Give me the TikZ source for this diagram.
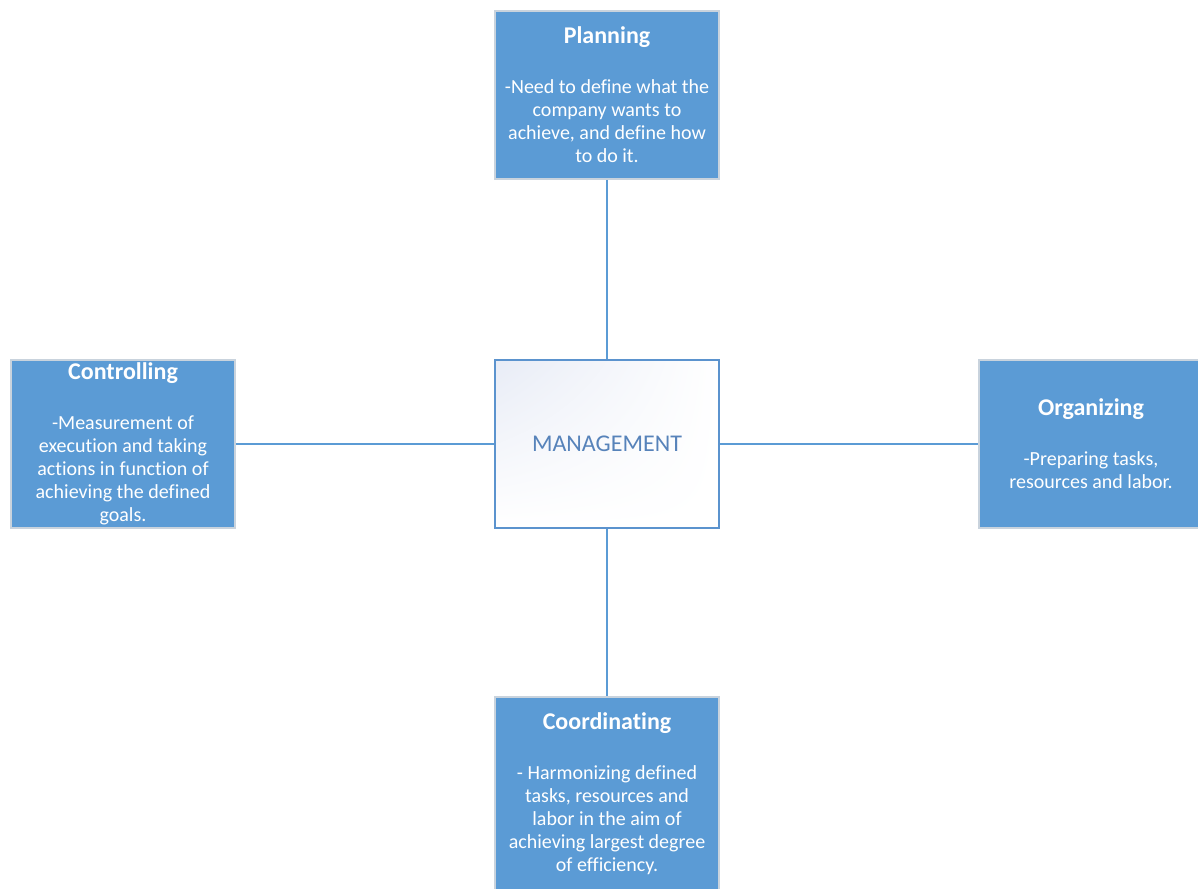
\documentclass[tikz,border=0pt]{standalone}
\usepackage{fontspec}
\usetikzlibrary{shadings}
\setmainfont[Ligatures=NoCommon]{Carlito}
\definecolor{boxblue}{HTML}{5B9BD5}
\definecolor{boxedge}{HTML}{C9D3DD}
\definecolor{mgmtedge}{HTML}{5B93CE}
\definecolor{mgmttext}{HTML}{5783BA}
\definecolor{mgmtshade}{HTML}{E8ECF6}
\newcommand{\boxtitle}[1]{{\fontsize{24}{23}\selectfont\bfseries #1}\\[27pt]}
\begin{document}
\begin{tikzpicture}[x=1pt,y=-1pt,
  task/.style={rectangle, fill=boxblue, draw=boxedge, line width=1.5pt,
    minimum width=224pt, minimum height=168pt, inner sep=0pt,
    text=white, align=center, font=\fontsize{20}{23}\selectfont},
  hub/.style={rectangle, draw=mgmtedge, line width=2pt,
    upper left=mgmtshade, upper right=white, lower left=white, lower right=white,
    minimum width=224pt, minimum height=168pt, inner sep=0pt,
    text=mgmttext, font=\fontsize{24}{26}\selectfont},
  link/.style={draw=boxblue, line width=1.6pt}]
\useasboundingbox (0,0) rectangle (1198,888);
\clip (0,0) rectangle (1198,888);
\fill[white] (0,0) rectangle (1198,888);

\node[hub] (mgmt) at (607,444) {MANAGEMENT};

\node[task] (plan) at (607,95)
  {\boxtitle{Planning}-Need to define what the\\company wants to\\achieve, and define how\\to do it.};

\node[task] (ctrl) at (123,444)
  {\boxtitle{Controlling}-Measurement of\\execution and taking\\actions in function of\\achieving the defined\\goals.};

\node[task] (org) at (1091,444)
  {\boxtitle{Organizing}-Preparing tasks,\\resources and labor.};

\node[task, minimum height=193pt] (coord) at (607,793.5)
  {\boxtitle{Coordinating}- Harmonizing defined\\tasks, resources and\\labor in the aim of\\achieving largest degree\\of efficiency.};

\draw[link] (plan.south) -- (mgmt.north);
\draw[link] (ctrl.east) -- (mgmt.west);
\draw[link] (mgmt.east) -- (org.west);
\draw[link] (mgmt.south) -- (coord.north);
\end{tikzpicture}
\end{document}
